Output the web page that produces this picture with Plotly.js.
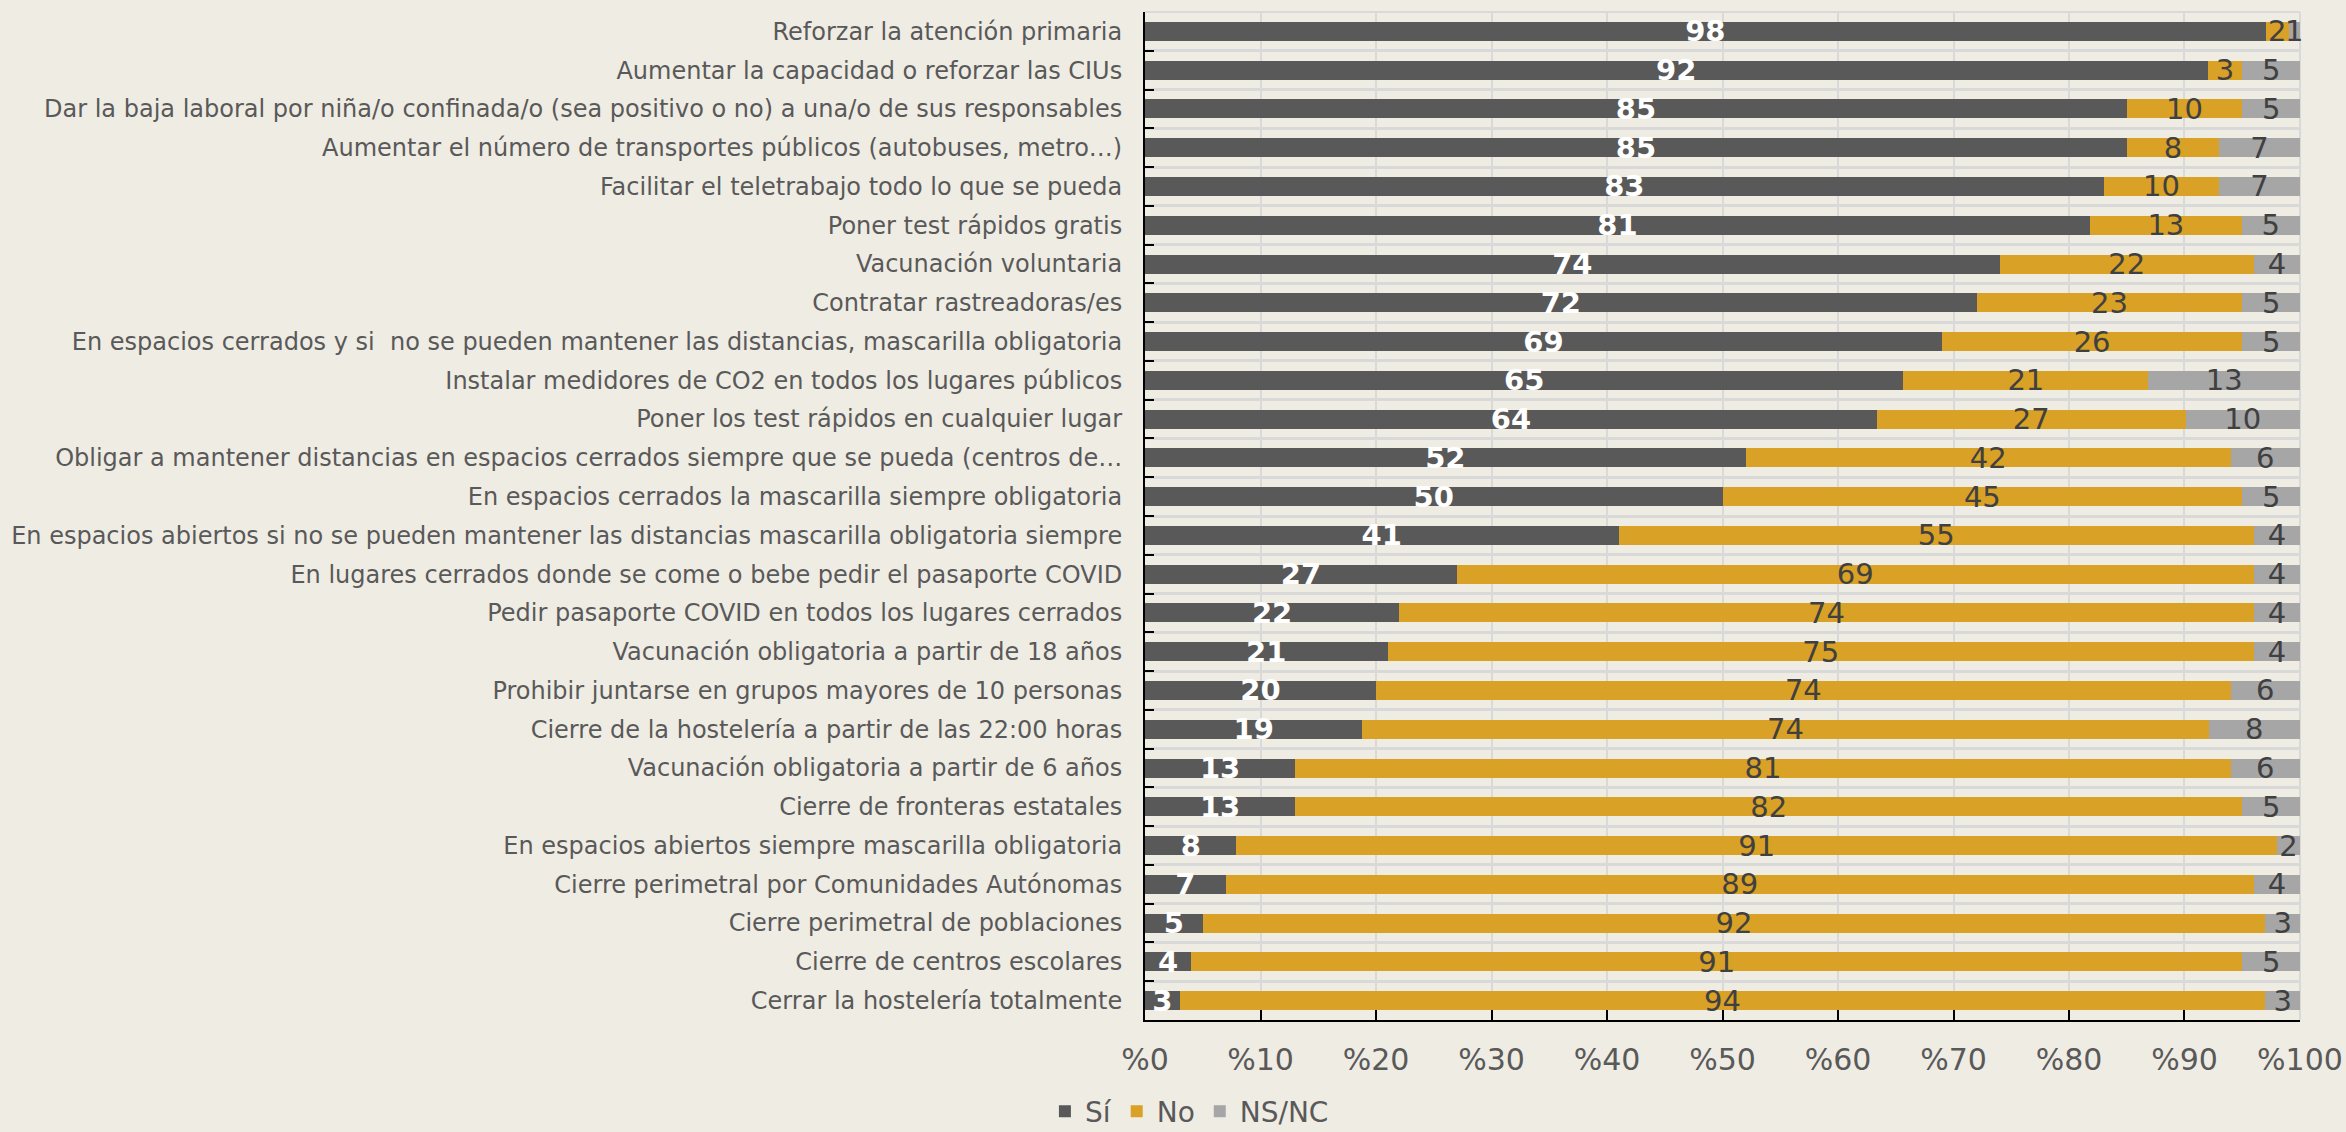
<!DOCTYPE html>
<html>
<head>
<meta charset="utf-8">
<script src="https://cdn.plot.ly/plotly-3.0.1.min.js"></script>
<style>
  html, body { margin: 0; padding: 0; background: #EFECE4; overflow: hidden; }
  #chart { width: 2346px; height: 1132px; }
</style>
</head>
<body>
<div id="chart"></div>
<script>
const categories = [
  "Reforzar la atención primaria",
  "Aumentar la capacidad o reforzar las CIUs",
  "Dar la baja laboral por niña/o confinada/o (sea positivo o no) a una/o de sus responsables",
  "Aumentar el número de transportes públicos (autobuses, metro…)",
  "Facilitar el teletrabajo todo lo que se pueda",
  "Poner test rápidos gratis",
  "Vacunación voluntaria",
  "Contratar rastreadoras/es",
  "En espacios cerrados y si  no se pueden mantener las distancias, mascarilla obligatoria",
  "Instalar medidores de CO2 en todos los lugares públicos",
  "Poner los test rápidos en cualquier lugar",
  "Obligar a mantener distancias en espacios cerrados siempre que se pueda (centros de…",
  "En espacios cerrados la mascarilla siempre obligatoria",
  "En espacios abiertos si no se pueden mantener las distancias mascarilla obligatoria siempre",
  "En lugares cerrados donde se come o bebe pedir el pasaporte COVID",
  "Pedir pasaporte COVID en todos los lugares cerrados",
  "Vacunación obligatoria a partir de 18 años",
  "Prohibir juntarse en grupos mayores de 10 personas",
  "Cierre de la hostelería a partir de las 22:00 horas",
  "Vacunación obligatoria a partir de 6 años",
  "Cierre de fronteras estatales",
  "En espacios abiertos siempre mascarilla obligatoria",
  "Cierre perimetral por Comunidades Autónomas",
  "Cierre perimetral de poblaciones",
  "Cierre de centros escolares",
  "Cerrar la hostelería totalmente"
];
const si   = [98, 92, 85, 85, 83, 81, 74, 72, 69, 65, 64, 52, 50, 41, 27, 22, 21, 20, 19, 13, 13, 8, 7, 5, 4, 3];
const no   = [2, 3, 10, 8, 10, 13, 22, 23, 26, 21, 27, 42, 45, 55, 69, 74, 75, 74, 74, 81, 82, 91, 89, 92, 91, 94];
const nsnc = [1, 5, 5, 7, 7, 5, 4, 5, 5, 13, 10, 6, 5, 4, 4, 4, 4, 6, 8, 6, 5, 2, 4, 3, 5, 3];
const seriesNames = ["Sí", "No", "NS/NC"];
const xTickVals = [0, 10, 20, 30, 40, 50, 60, 70, 80, 90, 100];
const xTickText = ["%0", "%10", "%20", "%30", "%40", "%50", "%60", "%70", "%80", "%90", "%100"];

const colors = ["#595959", "#D9A125", "#A6A6A6"];
const labelFonts = [
  {family: "DejaVu Sans", size: 29, color: "#FFFFFF", weight: "bold"},
  {family: "DejaVu Sans", size: 29, color: "#404040"},
  {family: "DejaVu Sans", size: 29, color: "#404040"}
];

const traces = [si, no, nsnc].map((vals, i) => ({
  type: "bar",
  orientation: "h",
  name: seriesNames[i],
  y: categories,
  x: vals,
  text: vals.map(String),
  textposition: "inside",
  insidetextanchor: "middle",
  textangle: 0,
  constraintext: "none",
  cliponaxis: false,
  textfont: labelFonts[i],
  marker: {color: colors[i]},
  hoverinfo: "skip"
}));

const layout = {
  width: 2346,
  height: 1132,
  paper_bgcolor: "#EFECE4",
  plot_bgcolor: "#EFECE4",
  barmode: "stack",
  barnorm: "percent",
  bargap: 0.51,
  margin: {l: 1145, r: 46, t: 12, b: 112},
  font: {family: "DejaVu Sans", color: "#595959"},
  showlegend: true,
  legend: {
    orientation: "h",
    xref: "container", yref: "container",
    x: 0.507, xanchor: "center",
    y: 0.018, yanchor: "middle",
    font: {family: "DejaVu Sans", size: 28, color: "#595959"},
    traceorder: "normal",
    itemclick: false
  },
  xaxis: {
    range: [0, 100.0005],
    tickmode: "array",
    tickvals: xTickVals,
    ticktext: xTickText,
    tickfont: {family: "DejaVu Sans", size: 30, color: "#595959"},
    ticks: "inside",
    ticklen: 10,
    tickwidth: 2,
    tickcolor: "#000000",
    showline: true,
    linecolor: "#000000",
    linewidth: 2,
    showgrid: true,
    gridcolor: "#D9D9D9",
    gridwidth: 2,
    zeroline: false,
    mirror: false,
    ticklabelstandoff: 12,
    fixedrange: true
  },
  yaxis: {
    type: "category",
    autorange: "reversed",
    tickson: "boundaries",
    ticks: "inside",
    ticklen: 9,
    tickwidth: 2,
    tickcolor: "#000000",
    showline: true,
    linecolor: "#000000",
    linewidth: 2,
    showgrid: true,
    gridcolor: "#D9D9D9",
    gridwidth: 3,
    tickfont: {family: "DejaVu Sans", size: 24, color: "#595959"},
    ticklabelstandoff: 16,
    fixedrange: true
  },
  shapes: [
    {type: "line", xref: "paper", yref: "paper", x0: 0, x1: 1, y0: 1, y1: 1,
     line: {color: "#D9D9D9", width: 2}, layer: "below"},
    {type: "line", xref: "paper", yref: "paper", x0: 1, x1: 1, y0: 0, y1: 1,
     line: {color: "#D9D9D9", width: 2}, layer: "below"}
  ]
};

Plotly.newPlot("chart", traces, layout, {displayModeBar: false, staticPlot: true});
</script>
</body>
</html>
